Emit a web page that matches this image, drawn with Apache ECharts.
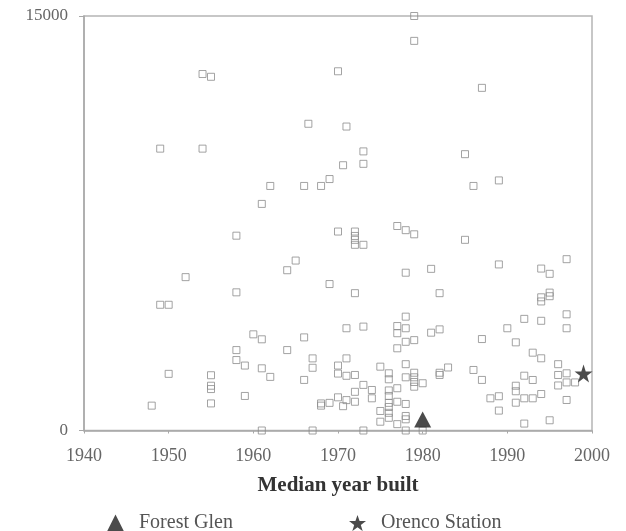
<!DOCTYPE html>
<html>
<head>
<meta charset="utf-8">
<script src="https://cdn.jsdelivr.net/npm/echarts@6/dist/echarts.min.js"></script>
<style>
  html, body { margin: 0; padding: 0; background: #ffffff; }
  #chart { width: 626px; height: 531px; }
</style>
</head>
<body>
<div id="chart"></div>
<script>
// Neighborhoods: [median year built, value]
const neighborhoodPoints = [
  [1948, 900],
  [1949, 10200], [1949, 4550],
  [1950, 4550], [1950, 2050],
  [1952, 5550],
  [1954, 12900], [1954, 10200],
  [1955, 12800], [1955, 2000], [1955, 1620], [1955, 1500], [1955, 980],
  [1958, 7050], [1958, 5000], [1958, 2910], [1958, 2550],
  [1959, 2350], [1959, 1250],
  [1960, 3480],
  [1961, 8200], [1961, 3300], [1961, 2250], [1961, 0],
  [1962, 8850], [1962, 1940],
  [1964, 5800], [1964, 2910],
  [1965, 6150],
  [1966.5, 11100], [1966, 8850], [1966, 3370], [1966, 1830],
  [1967, 2610], [1967, 2270], [1967, 0],
  [1968, 8850], [1968, 980], [1968, 900],
  [1969, 9100], [1969, 5300], [1969, 1000],
  [1970, 13000], [1970, 7200], [1970, 2350], [1970, 2060], [1970, 1200],
  [1970.6, 9600], [1970.6, 880],
  [1971, 11000], [1971, 3700], [1971, 2610], [1971, 1980], [1971, 1100],
  [1972, 7200], [1972, 7040], [1972, 6900], [1972, 6720], [1972, 4970], [1972, 2010], [1972, 1400], [1972, 1040],
  [1973, 10100], [1973, 9650], [1973, 6720], [1973, 3760], [1973, 1650], [1973, 0],
  [1974, 1466], [1974, 1165],
  [1975, 2310], [1975, 706], [1975, 318],
  [1976, 2070], [1976, 1853], [1976, 1450], [1976, 1250], [1976, 1000], [1976, 850], [1976, 640], [1976, 460],
  [1977, 7400], [1977, 3780], [1977, 3520], [1977, 2975], [1977, 1530], [1977, 1040], [1977, 230],
  [1978, 7250], [1978, 5710], [1978, 4120], [1978, 3700], [1978, 3210], [1978, 2400], [1978, 1925], [1978, 960], [1978, 525], [1978, 405], [1978, 0],
  [1979, 15000], [1979, 14100], [1979, 7100], [1979, 3270], [1979, 2090], [1979, 1925], [1979, 1755], [1979, 1585],
  [1980, 1710], [1980, 0],
  [1981, 5850], [1981, 3540],
  [1982, 4970], [1982, 3660], [1982, 2090], [1982, 2010],
  [1983, 2280],
  [1985, 10000], [1985, 6900],
  [1986, 8850], [1986, 2190],
  [1987, 12400], [1987, 3310], [1987, 1830],
  [1988, 1165],
  [1989, 9050], [1989, 6010], [1989, 1240], [1989, 720],
  [1990, 3700],
  [1991, 3190], [1991, 1620], [1991, 1420], [1991, 1006],
  [1992, 4040], [1992, 1983], [1992, 1165], [1992, 250],
  [1993, 2816], [1993, 1828], [1993, 1165],
  [1994, 5860], [1994, 4820], [1994, 4670], [1994, 3970], [1994, 2613], [1994, 1320],
  [1995, 5670], [1995, 4990], [1995, 4860], [1995, 370],
  [1996, 2400], [1996, 2009], [1996, 1630],
  [1997, 6200], [1997, 4205], [1997, 3700], [1997, 2070], [1997, 1740], [1997, 1104],
  [1998, 1740]
];

// Highlighted neighborhoods
const forestGlen = [[1980, 330]];
const orencoStation = [[1999, 2060]];

// Axis ranges and labels
const xMin = 1940, xMax = 2000, xStep = 10;
const yMin = 0, yMax = 15000;
const xAxisTitle = 'Median year built';
const legendNames = ['Forest Glen', 'Orenco Station'];

const serif = "'Liberation Serif', 'DejaVu Serif', serif";
const starPath = 'path://M50,0 L61.8,35.1 L98.1,35.1 L68.8,56.8 L79.4,91.9 L50,70.3 L20.6,91.9 L31.2,56.8 L1.9,35.1 L38.2,35.1 Z';

// Plain integers, no thousands separators
const plainNumber = v => String(Math.round(v));

const chart = echarts.init(document.getElementById('chart'), null, { renderer: 'canvas' });

chart.setOption({
  animation: false,
  backgroundColor: '#ffffff',
  grid: {
    left: 84, right: 34, top: 16, bottom: 100.5,
    show: true,
    borderColor: '#b5b5b5',
    borderWidth: 1.5,
    backgroundColor: 'transparent'
  },
  xAxis: {
    type: 'value',
    min: xMin, max: xMax, interval: xStep,
    name: xAxisTitle,
    nameLocation: 'middle',
    nameGap: 45,
    nameTextStyle: { fontFamily: serif, fontSize: 21, fontWeight: 'bold', color: '#333333' },
    axisLine: { show: true, lineStyle: { color: '#a8a8a8', width: 1.5 } },
    axisTick: { show: true, length: 3, lineStyle: { color: '#a8a8a8' } },
    splitLine: { show: false },
    axisLabel: { margin: 17, fontFamily: serif, fontSize: 18, color: '#666666', formatter: plainNumber }
  },
  yAxis: {
    type: 'value',
    min: yMin, max: yMax, interval: yMax - yMin,
    axisLine: { show: true, lineStyle: { color: '#a8a8a8', width: 1.5 } },
    axisTick: { show: true, length: 5, lineStyle: { color: '#a8a8a8' } },
    splitLine: { show: false },
    axisLabel: { margin: 16, fontFamily: serif, fontSize: 17, color: '#666666', formatter: plainNumber }
  },
  legend: [
    {
      data: [legendNames[0]],
      left: 102, top: 508,
      itemWidth: 17, itemHeight: 17,
      textStyle: { fontFamily: serif, fontSize: 20, color: '#555555', padding: [0, 0, 0, 10] },
      selectedMode: false
    },
    {
      data: [legendNames[1]],
      left: 344, top: 508,
      itemWidth: 17, itemHeight: 17,
      textStyle: { fontFamily: serif, fontSize: 20, color: '#555555', padding: [0, 0, 0, 10] },
      selectedMode: false
    }
  ],
  series: [
    {
      name: 'Neighborhoods',
      type: 'scatter',
      clip: false,
      symbol: 'rect',
      symbolSize: 7,
      itemStyle: { color: 'rgba(255,255,255,0)', borderColor: '#8c8c8c', borderWidth: 1 },
      data: neighborhoodPoints,
      z: 2
    },
    {
      name: legendNames[0],
      type: 'scatter',
      symbol: 'triangle',
      symbolSize: [17, 16],
      symbolOffset: [0, -2],
      itemStyle: { color: '#1e1e1e' },
      data: forestGlen,
      z: 3
    },
    {
      name: legendNames[1],
      type: 'scatter',
      symbol: starPath,
      symbolSize: 18,
      itemStyle: { color: '#1e1e1e' },
      data: orencoStation,
      z: 3
    }
  ]
});
</script>
</body>
</html>
